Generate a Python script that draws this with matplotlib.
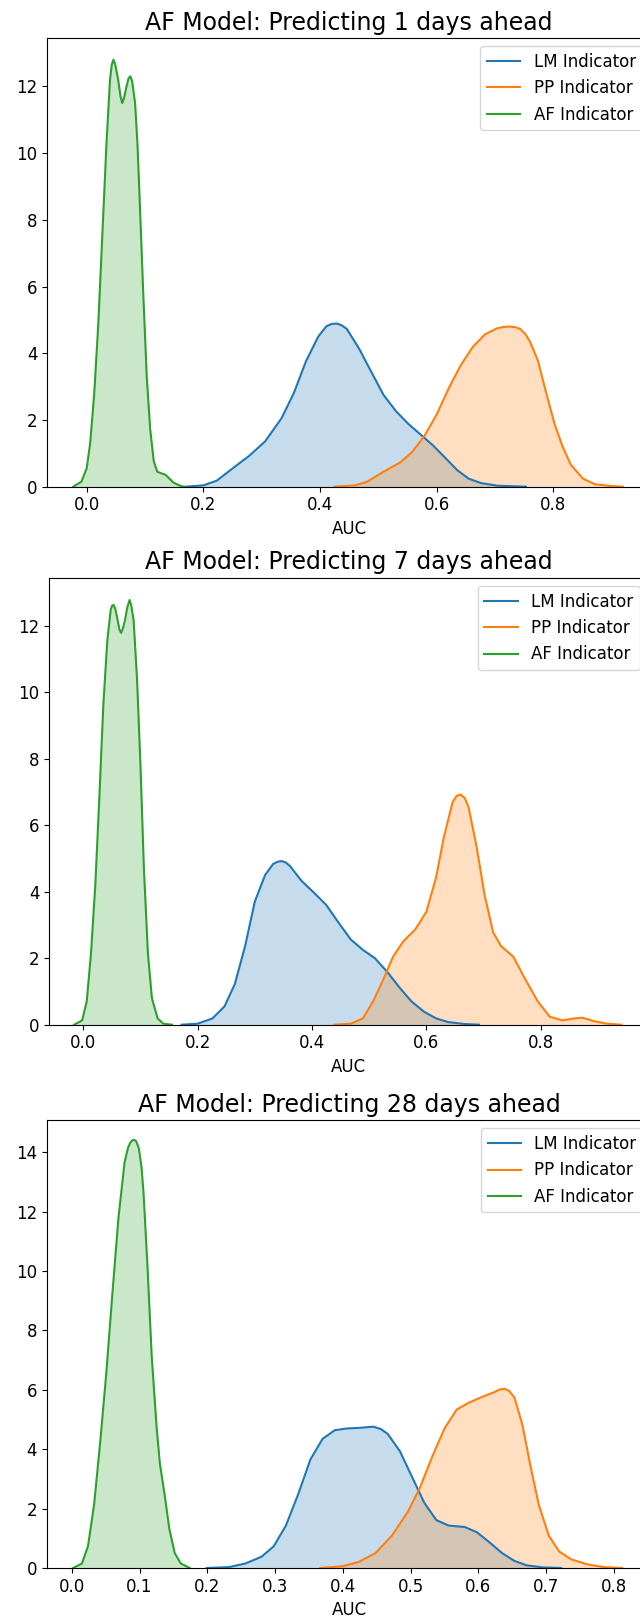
import matplotlib
matplotlib.use("Agg")
import matplotlib.pyplot as plt
import numpy as np

plt.rcParams["font.size"] = 12

# ---------------- data ----------------
titles = ["AF Model: Predicting 1 days ahead",
          "AF Model: Predicting 7 days ahead",
          "AF Model: Predicting 28 days ahead"]
labels = ["LM Indicator", "PP Indicator", "AF Indicator"]

# Panel 1 (1 day)
lm1_x = [0.170, 0.200, 0.223, 0.251, 0.279, 0.306, 0.334, 0.355, 0.376, 0.397, 0.411, 0.420,
         0.429, 0.437, 0.446, 0.467, 0.488, 0.509, 0.530, 0.551, 0.572, 0.593, 0.614, 0.635,
         0.655, 0.676, 0.704, 0.753]
lm1_y = [0.00, 0.04, 0.18, 0.56, 0.93, 1.36, 2.05, 2.80, 3.76, 4.50, 4.81, 4.88,
         4.89, 4.84, 4.73, 4.14, 3.44, 2.75, 2.27, 1.89, 1.57, 1.25, 0.88, 0.50,
         0.24, 0.11, 0.03, 0.00]
pp1_x = [0.425, 0.460, 0.481, 0.509, 0.537, 0.558, 0.579, 0.600, 0.621, 0.642, 0.662, 0.683,
         0.704, 0.715, 0.725, 0.735, 0.743, 0.752, 0.760, 0.774, 0.788, 0.802, 0.816, 0.830,
         0.851, 0.872, 0.900, 0.919]
pp1_y = [0.00, 0.04, 0.15, 0.45, 0.72, 1.04, 1.52, 2.16, 2.96, 3.66, 4.19, 4.57,
         4.75, 4.79, 4.80, 4.78, 4.73, 4.58, 4.35, 3.76, 2.80, 1.89, 1.20, 0.66,
         0.24, 0.07, 0.02, 0.00]
af1_x = [-0.023, -0.009, 0.000, 0.006, 0.013, 0.020, 0.027, 0.034, 0.040, 0.043, 0.046,
         0.049, 0.054, 0.058, 0.061, 0.064, 0.069, 0.072, 0.075, 0.078, 0.083, 0.087,
         0.090, 0.097, 0.103, 0.109, 0.115, 0.121, 0.128, 0.135, 0.142, 0.149, 0.160, 0.167]
af1_y = [0.00, 0.15, 0.55, 1.30, 2.80, 4.90, 7.60, 10.30, 12.20, 12.65, 12.80,
         12.65, 12.20, 11.70, 11.50, 11.65, 12.05, 12.25, 12.30, 12.15, 11.50, 10.30,
         9.00, 5.80, 3.30, 1.70, 0.77, 0.45, 0.40, 0.36, 0.24, 0.12, 0.03, 0.00]

# Panel 2 (7 days)
lm2_x = [0.172, 0.200, 0.226, 0.247, 0.265, 0.283, 0.300, 0.318, 0.332, 0.340, 0.347, 0.354,
         0.361, 0.382, 0.404, 0.425, 0.446, 0.468, 0.489, 0.510, 0.532, 0.553, 0.574, 0.596,
         0.617, 0.638, 0.667, 0.692]
lm2_y = [0.00, 0.03, 0.19, 0.55, 1.22, 2.36, 3.70, 4.50, 4.83, 4.90, 4.92, 4.88,
         4.78, 4.32, 3.96, 3.60, 3.08, 2.56, 2.25, 2.00, 1.58, 1.12, 0.70, 0.39,
         0.19, 0.08, 0.02, 0.00]
pp2_x = [0.439, 0.468, 0.489, 0.507, 0.525, 0.542, 0.560, 0.581, 0.600, 0.617, 0.631, 0.646,
         0.653, 0.660, 0.667, 0.674, 0.688, 0.702, 0.717, 0.731, 0.752, 0.773, 0.795, 0.816,
         0.838, 0.859, 0.873, 0.895, 0.916, 0.941]
pp2_y = [0.00, 0.03, 0.19, 0.70, 1.37, 2.05, 2.51, 2.87, 3.39, 4.42, 5.66, 6.69,
         6.88, 6.92, 6.82, 6.54, 5.35, 3.90, 2.77, 2.36, 2.05, 1.37, 0.70, 0.24,
         0.13, 0.19, 0.21, 0.10, 0.03, 0.00]
af2_x = [-0.016, -0.002, 0.006, 0.0135, 0.021, 0.028, 0.035, 0.042, 0.048, 0.0505, 0.053,
         0.056, 0.060, 0.063, 0.066, 0.069, 0.073, 0.077, 0.081, 0.084, 0.088, 0.094,
         0.100, 0.106, 0.113, 0.120, 0.130, 0.140, 0.155]
af2_y = [0.00, 0.13, 0.70, 2.15, 4.20, 6.80, 9.60, 11.55, 12.48, 12.60, 12.62,
         12.50, 12.17, 11.90, 11.78, 11.90, 12.17, 12.55, 12.77, 12.60, 12.17, 10.40,
         7.80, 4.70, 2.15, 0.80, 0.19, 0.03, 0.00]

# Panel 3 (28 days)
lm3_x = [0.199, 0.232, 0.256, 0.280, 0.298, 0.316, 0.334, 0.352, 0.370, 0.388, 0.406, 0.424,
         0.445, 0.456, 0.466, 0.484, 0.502, 0.520, 0.538, 0.556, 0.580, 0.598, 0.617, 0.635,
         0.653, 0.671, 0.695, 0.722]
lm3_y = [0.00, 0.03, 0.15, 0.38, 0.73, 1.43, 2.48, 3.65, 4.35, 4.64, 4.70, 4.72,
         4.76, 4.68, 4.52, 3.94, 3.07, 2.20, 1.61, 1.43, 1.38, 1.20, 0.85, 0.50,
         0.24, 0.09, 0.02, 0.00]
pp3_x = [0.367, 0.400, 0.424, 0.448, 0.472, 0.496, 0.514, 0.532, 0.550, 0.568, 0.586, 0.604,
         0.623, 0.631, 0.638, 0.645, 0.653, 0.665, 0.677, 0.689, 0.704, 0.719, 0.737, 0.761,
         0.785, 0.812]
pp3_y = [0.00, 0.06, 0.21, 0.50, 1.08, 1.90, 2.72, 3.76, 4.70, 5.34, 5.57, 5.75,
         5.92, 6.01, 6.04, 5.97, 5.75, 4.81, 3.41, 2.13, 1.08, 0.56, 0.29, 0.12,
         0.03, 0.00]
af3_x = [0.002, 0.015, 0.024, 0.033, 0.042, 0.051, 0.060, 0.069, 0.078, 0.083, 0.086,
         0.089, 0.092, 0.095, 0.099, 0.103, 0.106, 0.112, 0.118, 0.125, 0.130, 0.137,
         0.144, 0.152, 0.161, 0.174]
af3_y = [0.00, 0.15, 0.73, 2.13, 4.23, 6.56, 9.24, 11.80, 13.67, 14.15, 14.31,
         14.40, 14.42, 14.38, 14.14, 13.50, 12.62, 10.06, 7.14, 4.81, 3.53, 2.48,
         1.32, 0.50, 0.15, 0.00]

panels = [
    [(lm1_x, lm1_y), (pp1_x, pp1_y), (af1_x, af1_y)],
    [(lm2_x, lm2_y), (pp2_x, pp2_y), (af2_x, af2_y)],
    [(lm3_x, lm3_y), (pp3_x, pp3_y), (af3_x, af3_y)],
]
colors = ["#1f77b4", "#ff7f0e", "#2ca02c"]

# ---------------- layout ----------------
W, H = 640, 1621
DPI = 100
fig = plt.figure(figsize=(W / DPI, H / DPI), dpi=DPI)

# (left_px, top_px, bottom_px, xlim, ylim, x ticks)
layout = [
    (47.3, 38.0, 486.7, (-0.0675, 0.967), (0, 13.45), [0.0, 0.2, 0.4, 0.6, 0.8]),
    (49.0, 577.7, 1024.7, (-0.060, 0.988), (0, 13.44), [0.0, 0.2, 0.4, 0.6, 0.8]),
    (46.7, 1120.0, 1568.0, (-0.0369, 0.855), (0, 15.09),
     [0.0, 0.1, 0.2, 0.3, 0.4, 0.5, 0.6, 0.7, 0.8]),
]
px_per_unit = [583.3, 571.7, 677.9]

for i, (left, top, bottom, xl, yl, xt) in enumerate(layout):
    width_px = (xl[1] - xl[0]) * px_per_unit[i]
    ax = fig.add_axes([left / W, 1 - bottom / H, width_px / W, (bottom - top) / H])
    for (xs, ys), c, lab in zip(panels[i], colors, labels):
        xs = np.asarray(xs)
        ys = np.asarray(ys)
        ax.fill_between(xs, ys, 0, color=c, alpha=0.25, linewidth=0)
        ax.plot(xs, ys, color=c, lw=1.5, label=lab)
    ax.set_xlim(*xl)
    ax.set_ylim(*yl)
    ax.set_xticks(xt)
    ax.set_xticklabels([f"{v:.1f}" for v in xt])
    ax.set_xlabel("AUC", fontsize=12)
    ax.set_title(titles[i], fontsize=17)
    ax.tick_params(labelsize=12)
    ax.legend(loc="upper right", fontsize=12)

fig.savefig("out.png", dpi=DPI)
